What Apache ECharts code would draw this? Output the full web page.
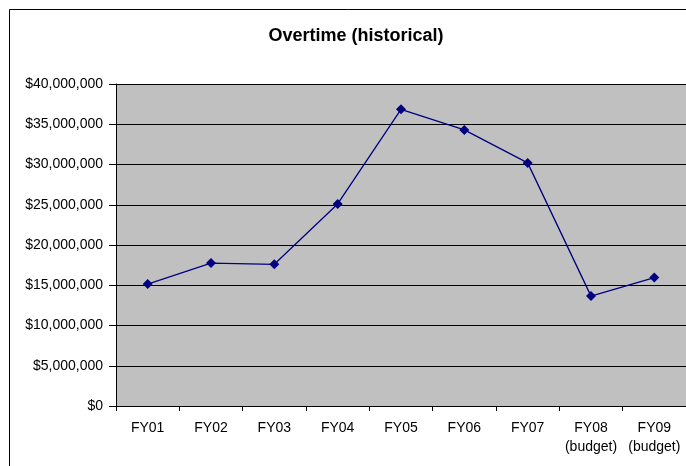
<!DOCTYPE html>
<html>
<head>
<meta charset="utf-8">
<script src="https://cdn.jsdelivr.net/npm/echarts@6/dist/echarts.min.js"></script>
<style>
html, body { margin: 0; padding: 0; background: #fff; }
#main { width: 686px; height: 466px; }
</style>
</head>
<body>
<div id="main"></div>
<script>
var categories = ['FY01', 'FY02', 'FY03', 'FY04', 'FY05', 'FY06', 'FY07', 'FY08\n(budget)', 'FY09\n(budget)'];
var overtime = [15150000, 17750000, 17600000, 25100000, 36850000, 34300000, 30200000, 13650000, 15950000];
var yTicks = { min: 0, max: 40000000, interval: 5000000 };

function money(v) {
    return '$' + v.toString().replace(/\B(?=(\d{3})+(?!\d))/g, ',');
}

var chart = echarts.init(document.getElementById('main'));
chart.setOption({
    backgroundColor: '#fff',
    animation: false,
    title: {
        text: 'Overtime (historical)',
        left: 351,
        textAlign: 'center',
        top: 22,
        textStyle: { fontFamily: 'Liberation Sans', fontSize: 18, fontWeight: 'bold', color: '#000' }
    },
    graphic: [{
        type: 'rect',
        shape: { x: 9.5, y: 9.5, width: 700, height: 500 },
        style: { fill: 'none', stroke: '#000', lineWidth: 1 },
        silent: true
    }],
    grid: {
        left: 116, top: 84, right: -5, bottom: 60,
        show: true, backgroundColor: '#C0C0C0', borderWidth: 0
    },
    xAxis: {
        type: 'category',
        data: categories,
        boundaryGap: true,
        axisLine: { lineStyle: { color: '#000', width: 1 } },
        axisTick: { show: true, length: 5, inside: false, lineStyle: { color: '#000' } },
        axisLabel: {
            fontFamily: 'Liberation Sans', fontSize: 14, color: '#000',
            margin: 13, lineHeight: 19, interval: 0
        },
        splitLine: { show: false }
    },
    yAxis: {
        type: 'value',
        min: yTicks.min, max: yTicks.max, interval: yTicks.interval,
        axisLine: { show: true, lineStyle: { color: '#000', width: 1 } },
        axisTick: { show: true, length: 7, lineStyle: { color: '#000' } },
        axisLabel: {
            fontFamily: 'Liberation Sans', fontSize: 14, color: '#000',
            margin: 13, formatter: money
        },
        splitLine: { show: true, lineStyle: { color: '#000', width: 1 } }
    },
    series: [{
        type: 'line',
        data: overtime,
        symbol: 'diamond',
        symbolSize: 10,
        lineStyle: { color: '#000080', width: 1.3 },
        itemStyle: { color: '#000080' }
    }]
});
</script>
</body>
</html>
